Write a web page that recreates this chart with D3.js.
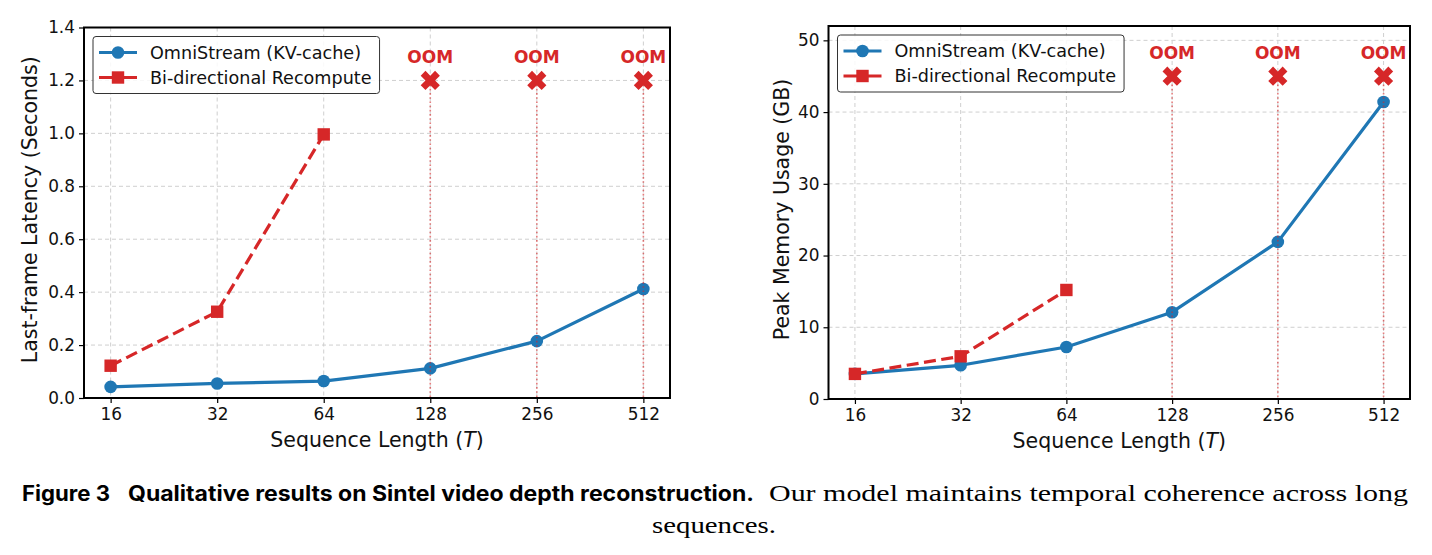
<!DOCTYPE html>
<html><head><meta charset="utf-8">
<script src="https://cdn.jsdelivr.net/npm/d3@7"></script>
<style>body{margin:0;background:#fff} svg{display:block}</style>
</head><body>
<svg id="chart" width="1432" height="555"></svg>
<script>
// ---- data ----
const seqLengths = [16, 32, 64, 128, 256, 512];
const seriesNames = ["OmniStream (KV-cache)", "Bi-directional Recompute"];
const latencyOmni = [0.042, 0.055, 0.064, 0.112, 0.215, 0.412];
const latencyBi = [0.122, 0.326, 0.996];
const memoryOmni = [3.5, 4.7, 7.25, 12.1, 21.9, 41.4];
const memoryBi = [3.5, 5.95, 15.2];
const oomLengths = [128, 256, 512];
const latencyOOM = 1.2;
const memoryOOM = 45;
const latencyTicks = [0, 0.2, 0.4, 0.6, 0.8, 1.0, 1.2, 1.4];
const memoryTicks = [0, 10, 20, 30, 40, 50];
const oomLabel = "OOM";
const xLabelMain = "Sequence Length (";
const xLabelVar = "T";
const captionFig = "Figure 3";
const captionBold = "Qualitative results on Sintel video depth reconstruction.";
const captionRest1 = "Our model maintains temporal coherence across long";
const captionRest2 = "sequences.";

const BLUE = "#1f77b4", RED = "#d62728";
const FONT = "DejaVu Sans, sans-serif";
const svg = d3.select("#chart");

function panel(o) {
  const g = svg.append("g");
  const x = d3.scaleLog().base(2).domain([Math.pow(2, 3.75), Math.pow(2, 9.25)]).range([o.left, o.right]);
  const y = d3.scaleLinear().domain([0, o.yMax]).range([o.bottom, o.top]);

  // grid
  const grid = g.append("g").attr("stroke", "#cfcfcf").attr("stroke-width", 1).attr("stroke-dasharray", "4,3");
  grid.selectAll(".vg").data(seqLengths).join("line")
    .attr("x1", d => x(d)).attr("x2", d => x(d)).attr("y1", o.top).attr("y2", o.bottom);
  grid.selectAll(".hg").data(o.yTicks).join("line")
    .attr("x1", o.left).attr("x2", o.right).attr("y1", d => y(d)).attr("y2", d => y(d));

  // axes
  const ya = g.append("g").attr("transform", `translate(${o.left},0)`)
    .call(d3.axisLeft(y).tickValues(o.yTicks).tickFormat(o.yFmt).tickSize(5).tickPadding(4));
  const xa = g.append("g").attr("transform", `translate(0,${o.bottom})`)
    .call(d3.axisBottom(x).tickValues(seqLengths).tickFormat(d3.format("d")).tickSize(5).tickPadding(5));
  [ya, xa].forEach(a => {
    a.select(".domain").remove();
    a.selectAll(".tick line").attr("stroke", "#000").attr("stroke-width", 1.2);
    a.selectAll(".tick text").attr("font-family", FONT).attr("font-size", 16.9).attr("fill", "#111");
  });

  // lines
  const line = d3.line().x(d => x(d[0])).y(d => y(d[1]));
  const omni = seqLengths.map((s, i) => [s, o.omni[i]]);
  const bi = o.bi.map((v, i) => [seqLengths[i], v]);
  g.append("path").datum(omni).attr("d", line).attr("fill", "none").attr("stroke", BLUE)
    .attr("stroke-width", 3.2).attr("stroke-linejoin", "round");
  g.selectAll(".pc").data(omni).join("circle").attr("cx", d => x(d[0])).attr("cy", d => y(d[1]))
    .attr("r", 6.3).attr("fill", BLUE);
  g.append("path").datum(bi).attr("d", line).attr("fill", "none").attr("stroke", RED)
    .attr("stroke-width", 3.2).attr("stroke-dasharray", "12,5.5");
  g.selectAll(".ps").data(bi).join("rect").attr("x", d => x(d[0]) - 6.2).attr("y", d => y(d[1]) - 6.2)
    .attr("width", 12.4).attr("height", 12.4).attr("fill", RED);

  // OOM
  const sym = d3.symbol().type(d3.symbolCross).size(230);
  oomLengths.forEach(L => {
    const cx = x(L), cy = y(o.oom);
    g.append("line").attr("x1", cx).attr("x2", cx).attr("y1", cy).attr("y2", o.bottom)
      .attr("stroke", RED).attr("stroke-opacity", 0.6).attr("stroke-width", 1.6).attr("stroke-dasharray", "1.6,2.6");
    g.append("path").attr("d", sym()).attr("transform", `translate(${cx},${cy}) rotate(45)`).attr("fill", RED);
    g.append("text").attr("x", cx).attr("y", cy - 17.7).attr("text-anchor", "middle")
      .attr("font-family", FONT).attr("font-weight", "bold").attr("font-size", 17).attr("fill", RED).text(oomLabel);
  });

  // spines
  g.append("rect").attr("x", o.left).attr("y", o.top).attr("width", o.right - o.left).attr("height", o.bottom - o.top)
    .attr("fill", "none").attr("stroke", "#000").attr("stroke-width", 2);

  // labels
  g.append("text").attr("transform", `translate(${o.yLabelX},${(o.top + o.bottom) / 2 - 3}) rotate(-90)`)
    .attr("text-anchor", "middle").attr("font-family", FONT).attr("font-size", 20.5).attr("fill", "#111").text(o.yLabel);
  const xl = g.append("text").attr("x", (o.left + o.right) / 2).attr("y", o.bottom + 49)
    .attr("text-anchor", "middle").attr("font-family", FONT).attr("font-size", 20.5).attr("fill", "#111");
  xl.append("tspan").text(xLabelMain);
  xl.append("tspan").attr("font-style", "oblique").text(xLabelVar);
  xl.append("tspan").text(")");

  // legend
  const lx = o.left + 9, ly = o.top + 9;
  const lg = g.append("g");
  const box = lg.append("rect").attr("x", lx).attr("y", ly).attr("height", 57).attr("rx", 3)
    .attr("fill", "#fff").attr("fill-opacity", 0.85).attr("stroke", "#333").attr("stroke-width", 1);
  let maxW = 0;
  seriesNames.forEach((name, i) => {
    const ry = ly + 16 + i * 25;
    const col = i === 0 ? BLUE : RED;
    lg.append("line").attr("x1", lx + 6).attr("x2", lx + 44).attr("y1", ry).attr("y2", ry)
      .attr("stroke", col).attr("stroke-width", 3.2);
    if (i === 0) lg.append("circle").attr("cx", lx + 25).attr("cy", ry).attr("r", 6.3).attr("fill", col);
    else lg.append("rect").attr("x", lx + 25 - 6.2).attr("y", ry - 6.2).attr("width", 12.4).attr("height", 12.4).attr("fill", col);
    const t = lg.append("text").attr("x", lx + 57).attr("y", ry + 6).attr("font-family", FONT)
      .attr("font-size", 17.6).attr("fill", "#111").text(name);
    maxW = Math.max(maxW, t.node().getComputedTextLength());
  });
  box.attr("width", 57 + maxW + 8);
}

panel({ left: 84, right: 670, top: 27.5, bottom: 398, yMax: 1.4, yTicks: latencyTicks,
  yFmt: d3.format(".1f"), omni: latencyOmni, bi: latencyBi, oom: latencyOOM,
  yLabel: "Last-frame Latency (Seconds)", yLabelX: 37 });
panel({ left: 828.5, right: 1410, top: 26, bottom: 399, yMax: 52, yTicks: memoryTicks,
  yFmt: d3.format("d"), omni: memoryOmni, bi: memoryBi, oom: memoryOOM,
  yLabel: "Peak Memory Usage (GB)", yLabelX: 789 });

// caption
const cap = svg.append("g");
cap.append("text").attr("x", 22).attr("y", 501).attr("font-family", "Inter, sans-serif").attr("font-weight", "bold")
  .attr("font-size", 21).attr("textLength", 88).attr("lengthAdjust", "spacingAndGlyphs").text(captionFig);
cap.append("text").attr("x", 128).attr("y", 501).attr("font-family", "Inter, sans-serif").attr("font-weight", "bold")
  .attr("font-size", 21).attr("textLength", 626).attr("lengthAdjust", "spacingAndGlyphs").text(captionBold);
cap.append("text").attr("x", 769).attr("y", 501).attr("font-family", "Liberation Serif, serif")
  .attr("font-size", 23).attr("textLength", 639).attr("lengthAdjust", "spacingAndGlyphs").text(captionRest1);
cap.append("text").attr("x", 652).attr("y", 533).attr("font-family", "Liberation Serif, serif")
  .attr("font-size", 23).attr("textLength", 124).attr("lengthAdjust", "spacingAndGlyphs").text(captionRest2);
</script>
</body></html>
